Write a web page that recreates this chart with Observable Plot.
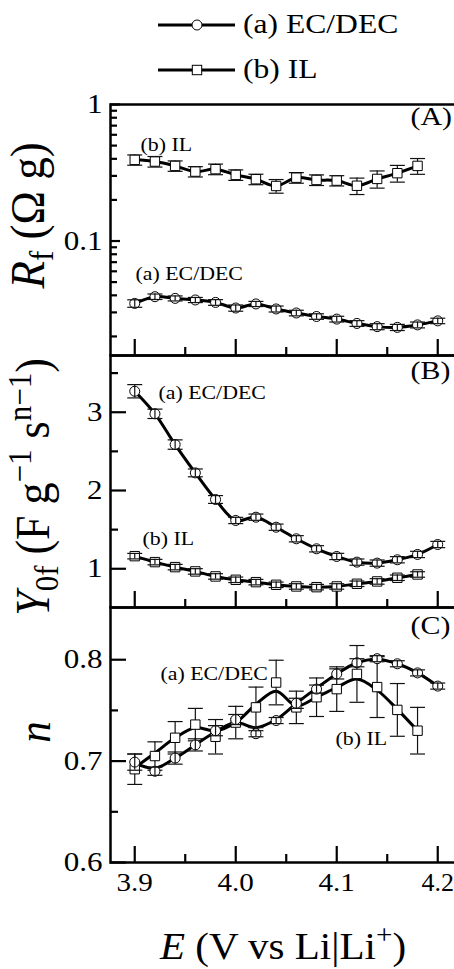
<!DOCTYPE html>
<html><head><meta charset="utf-8">
<script src="https://cdn.jsdelivr.net/npm/d3@7"></script>
<script src="https://cdn.jsdelivr.net/npm/@observablehq/plot@0.6"></script>
<style>
html,body{margin:0;padding:0;background:#fff;}
#wrap{position:relative;width:454px;height:969px;overflow:hidden;background:#fff;}
#wrap svg{position:absolute;left:0;}
</style></head><body><div id="wrap"></div>
<script>
// ---------- data ----------
const E_EC = [3.90,3.92,3.94,3.96,3.98,4.00,4.02,4.04,4.06,4.08,4.10,4.12,4.14,4.16,4.18,4.20];
const E_IL = [3.90,3.92,3.94,3.96,3.98,4.00,4.02,4.04,4.06,4.08,4.10,4.12,4.14,4.16,4.18];

// (A) Rf (Ω g)
const Rf_EC     = [0.0349,0.0391,0.0380,0.0370,0.0355,0.0323,0.0346,0.0318,0.0297,0.0280,0.0268,0.0249,0.0236,0.0233,0.0243,0.0260];
const Rf_EC_err = [0.0022,0.0018,0.0016,0.0016,0.0017,0.0017,0.0015,0.0016,0.0014,0.0013,0.0013,0.0012,0.0012,0.0012,0.0012,0.0012];
const Rf_IL     = [0.393,0.382,0.355,0.3225,0.336,0.305,0.2835,0.253,0.291,0.280,0.277,0.254,0.285,0.314,0.355];
const Rf_IL_err = [0.034,0.034,0.031,0.028,0.030,0.027,0.025,0.029,0.026,0.025,0.024,0.035,0.041,0.044,0.047];

// (B) Y0f (F g^-1 s^n-1)
const Y_EC     = [3.268,2.98,2.587,2.225,1.885,1.617,1.659,1.531,1.383,1.255,1.157,1.085,1.072,1.115,1.183,1.31];
const Y_EC_err = [0.085,0.06,0.06,0.05,0.05,0.04,0.04,0.04,0.04,0.04,0.04,0.04,0.04,0.04,0.04,0.04];
const Y_IL     = [1.161,1.085,1.021,0.966,0.902,0.859,0.829,0.795,0.774,0.765,0.774,0.808,0.838,0.885,0.927];
const Y_IL_err = [0.035,0.035,0.035,0.035,0.035,0.035,0.035,0.035,0.035,0.035,0.035,0.035,0.035,0.035,0.035];

// (C) n
const n_EC     = [0.699,0.690,0.703,0.716,0.730,0.741,0.727,0.740,0.757,0.771,0.786,0.797,0.801,0.796,0.787,0.774];
const n_EC_err = [0.008,0.004,0.006,0.006,0.005,0.005,0.003,0.003,0.005,0.004,0.005,0.004,0.003,0.003,0.003,0.003];
const n_IL     = [0.692,0.705,0.723,0.736,0.724,0.738,0.753,0.7775,0.753,0.763,0.771,0.786,0.773,0.7505,0.730];
const n_IL_err = [0.015,0.014,0.016,0.016,0.017,0.016,0.020,0.022,0.016,0.019,0.022,0.028,0.030,0.026,0.023];
// smoothed curves drawn through panel (C)
const n_EC_fit = [0.698,0.693,0.703,0.716,0.729,0.738,0.733,0.741,0.757,0.772,0.786,0.797,0.8005,0.796,0.787,0.774];
const n_IL_fit = [0.6935,0.708,0.723,0.733,0.7297,0.738,0.756,0.769,0.7545,0.763,0.7726,0.781,0.770,0.751,0.730];

// ticks
const xMajor = [3.9,4.0,4.1,4.2];
const xMinor = [3.95,4.05,4.15];
const yA_major = [0.1,1];
const yA_minor = [0.02,0.03,0.04,0.05,0.06,0.07,0.08,0.09,0.2,0.3,0.4,0.5,0.6,0.7,0.8,0.9];
const yB_major = [1,2,3];
const yB_minor = [1.5,2.5,3.5];
const yC_major = [0.6,0.7,0.8];
const yC_minor = [0.65,0.75];

const seriesLabels = ["(a) EC/DEC","(b) IL"];
const panelLabels = ["(A)","(B)","(C)"];

// ---------- drawing ----------
const FONT = '"Liberation Serif","Times New Roman",serif';
const SX = 1.15;
const W = 480, ML = 110, MR = 16.5;
const xDomain = [3.876, 4.226];
const wrap = document.getElementById("wrap");

const capSymbol = {draw(ctx){ ctx.moveTo(-7.5,0); ctx.lineTo(7.5,0); }};
const rows = (xs, ys, es) => xs.map((x,i) => ({x, y: ys[i], e: es ? es[i] : 0}));

function errMarks(data){
  return [
    Plot.ruleX(data, {x:"x", y1: d => d.y - d.e, y2: d => d.y + d.e, stroke:"#111", strokeWidth:1.2}),
    Plot.dot(data, {x:"x", y: d => d.y + d.e, symbol: capSymbol, r: 1, fill:"none", stroke:"#111", strokeWidth:1.2}),
    Plot.dot(data, {x:"x", y: d => d.y - d.e, symbol: capSymbol, r: 1, fill:"none", stroke:"#111", strokeWidth:1.2})
  ];
}

function panel(cfg){
  const mt = 5, mb = cfg.mb ?? 5;
  const innerH = cfg.bottom - cfg.top;
  const innerW = W - ML - MR;
  const ec = rows(E_EC, cfg.ec, cfg.ecErr);
  const il = rows(E_IL, cfg.il, cfg.ilErr);
  const ecLine = cfg.ecFit ? rows(E_EC, cfg.ecFit) : ec;
  const ilLine = cfg.ilFit ? rows(E_IL, cfg.ilFit) : il;
  const ecDots = Plot.dot(ec, {x:"x", y:"y", symbol:"circle", r:5, fill:"white", stroke:"black", strokeWidth:1});
  const ilDots = Plot.dot(il, {x:"x", y:"y", symbol:"square", r:5.3, fill:"white", stroke:"black", strokeWidth:1});
  const marks = [
    Plot.tickY(cfg.yMajor, {y: d => d, insetRight: innerW - cfg.majorLen, stroke:"black", strokeWidth:2.2}),
    Plot.tickY(cfg.yMinor, {y: d => d, insetRight: innerW - cfg.minorLen, stroke:"black", strokeWidth:2.2}),
    Plot.tickX(xMajor, {x: d => d, insetTop: innerH - 16, stroke:"black", strokeWidth:2.2}),
    Plot.tickX(xMinor, {x: d => d, insetTop: innerH - 8, stroke:"black", strokeWidth:2.2}),
    Plot.frame({stroke:"black", strokeWidth:2.5}),
    Plot.axisY(cfg.yMajor, {tickSize:0, tickPadding:8, fontSize:27, tickFormat: d => String(d), label:null}),
    Plot.line(ilLine, {x:"x", y:"y", curve:"catmull-rom", stroke:"black", strokeWidth:3}),
    Plot.line(ecLine, {x:"x", y:"y", curve:"catmull-rom", stroke:"black", strokeWidth:3}),
    ...(cfg.ilErrOnTop ? [ilDots, ...errMarks(il)] : [...errMarks(il), ilDots]),
    ecDots, ...errMarks(ec),
    Plot.text([cfg.label], {frameAnchor:"top-left", dx: cfg.labelDx, dy: cfg.labelDy, textAnchor:"start", lineAnchor:"top", fontSize:26, fill:"black"}),
    Plot.text(cfg.notes, {x:"x", y:"y", text:"t", textAnchor:"start", lineAnchor:"bottom", fontSize:19, fill:"black"})
  ];
  if (cfg.showX) marks.push(Plot.axisX(xMajor, {tickSize:0, tickPadding:10, fontSize:26, tickFormat: d3.format(".1f"), label:null}));
  const svg = Plot.plot({
    width: W, height: innerH + mt + mb,
    marginLeft: ML, marginRight: MR, marginTop: mt, marginBottom: mb,
    x: {domain: xDomain, ...(cfg.showX ? {} : {axis:null})},
    y: {type: cfg.yType, domain: cfg.yDomain},
    style: {background:"transparent", overflow:"visible", maxWidth:"none", fontFamily: FONT, color:"black"},
    marks
  });
  svg.querySelectorAll("text").forEach(t => {
    const tr = t.getAttribute("transform");
    if (!tr) return;
    const g = t.parentNode && t.parentNode.getAttribute ? t.parentNode.getAttribute("aria-label") : "";
    let s = SX;
    if (g === "x-axis tick label") s = (t.textContent === "4.2") ? 1.0 : 1.12;
    t.setAttribute("transform", tr + ` scale(${s},1)`);
  });
  svg.style.top = (cfg.top - mt) + "px";
  svg.style.position = "absolute";
  wrap.appendChild(svg);
}

panel({top:104, bottom:355, yType:"log", yDomain:[0.0145,1], yMajor:yA_major, yMinor:yA_minor, majorLen:10, minorLen:7,
  ec:Rf_EC, ecErr:Rf_EC_err, il:Rf_IL, ilErr:Rf_IL_err, ilErrOnTop:false,
  label:panelLabels[0], labelDx:300, labelDy:2,
  notes:[{x:3.9057, y:0.46, t:seriesLabels[1]}, {x:3.9008, y:0.0522, t:seriesLabels[0]}]});

panel({top:355, bottom:607, yType:"linear", yDomain:[0.505,3.725], yMajor:yB_major, yMinor:yB_minor, majorLen:16, minorLen:8,
  ec:Y_EC, ecErr:Y_EC_err, il:Y_IL, ilErr:Y_IL_err, ilErrOnTop:true,
  label:panelLabels[1], labelDx:300, labelDy:5,
  notes:[{x:3.9235, y:3.175, t:seriesLabels[0]}, {x:3.9077, y:1.31, t:seriesLabels[1]}]});

panel({top:607, bottom:862, mb:60, yType:"linear", yDomain:[0.6,0.8515], yMajor:yC_major, yMinor:yC_minor, majorLen:16, minorLen:8,
  ec:n_EC, ecErr:n_EC_err, il:n_IL, ilErr:n_IL_err, ecFit:n_EC_fit, ilFit:n_IL_fit, ilErrOnTop:false, showX:true,
  label:panelLabels[2], labelDx:300, labelDy:8,
  notes:[{x:3.9255, y:0.780, t:seriesLabels[0]}, {x:4.0988, y:0.716, t:seriesLabels[1]}]});

// ---------- overlay: legend + axis titles ----------
const ov = d3.select(wrap).append("svg").attr("width",454).attr("height",969)
  .style("top","0px").style("pointer-events","none")
  .attr("font-family", FONT).attr("fill","black");

// legend
[[25,"circle"],[70,"square"]].forEach(([y,sym],i) => {
  ov.append("line").attr("x1",158).attr("x2",235).attr("y1",y).attr("y2",y).attr("stroke","black").attr("stroke-width",3);
  if (sym === "circle") ov.append("circle").attr("cx",197).attr("cy",y).attr("r",5).attr("fill","white").attr("stroke","black");
  else ov.append("rect").attr("x",197-4.7).attr("y",y-4.7).attr("width",9.4).attr("height",9.4).attr("fill","white").attr("stroke","black");
  ov.append("text").attr("transform",`translate(243,${y+8}) scale(1.17,1)`).attr("font-size",27).text(seriesLabels[i]);
});

// y titles
function yTitle(x, y, fs, parts){
  const t = ov.append("text").attr("transform",`translate(${x},${y}) scale(1.1,1) rotate(-90)`)
    .attr("text-anchor","middle").attr("font-size",fs);
  parts.forEach(p => {
    const s = t.append("tspan").text(p.s);
    if (p.i) s.attr("font-style","italic");
    if (p.fs) s.attr("font-size",p.fs);
    if (p.dy) s.attr("dy",p.dy);
  });
}
yTitle(44, 215.5, 45, [{s:"R",i:1},{s:"f",fs:31,dy:8},{s:" (Ω g)",dy:-8}]);
yTitle(49, 487, 44, [{s:"Y",i:1},{s:"0f",fs:31,dy:8},{s:" (F g",dy:-8},{s:"−1",fs:31,dy:-16},{s:" s",dy:16},{s:"n−1",fs:31,dy:-16},{s:")",dy:16}]);
yTitle(50, 732, 43, [{s:"n",i:1}]);

// x title
const xt = ov.append("text").attr("transform","translate(283,959) scale(1.08,1)").attr("text-anchor","middle").attr("font-size",38);
xt.append("tspan").attr("font-style","italic").text("E");
xt.append("tspan").text(" (V vs Li|Li");
xt.append("tspan").attr("font-size",27).attr("dy",-15).text("+");
xt.append("tspan").attr("dy",15).text(")");
</script></body></html>
